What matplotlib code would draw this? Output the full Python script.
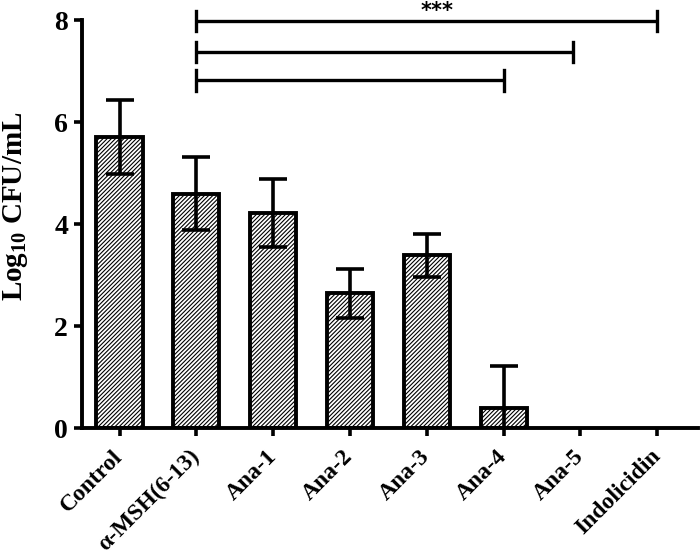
import matplotlib
matplotlib.use("Agg")
import matplotlib.pyplot as plt
import numpy as np

categories = ["Control", "α-MSH(6-13)", "Ana-1", "Ana-2", "Ana-3", "Ana-4", "Ana-5", "Indolicidin"]
means = [5.71, 4.60, 4.22, 2.65, 3.39, 0.39, 0.0, 0.0]
errors = [0.72, 0.72, 0.67, 0.48, 0.42, 0.82, 0.0, 0.0]
yticks = [0, 2, 4, 6, 8]
# significance brackets: (start category, end position, y level)
brackets = [(1, 7.0, 7.98), (1, 5.9, 7.37), (1, 5.0, 6.82)]
sig_label = "***"

plt.rcParams['font.family'] = ['Liberation Serif', 'DejaVu Serif']
plt.rcParams['font.weight'] = 'bold'
plt.rcParams['hatch.linewidth'] = 0.8
plt.rcParams['mathtext.fontset'] = 'custom'
plt.rcParams['mathtext.rm'] = 'Liberation Serif:bold'
plt.rcParams['mathtext.bf'] = 'Liberation Serif:bold'
plt.rcParams['mathtext.it'] = 'Liberation Serif:bold'
plt.rcParams['mathtext.default'] = 'bf'

fig = plt.figure(figsize=(7.0, 5.59), dpi=100)
ax = fig.add_axes([0.117, 0.234, 0.880, 0.730])

x = np.arange(len(categories))
show = [m > 0 for m in means]
for xi, m, e, s in zip(x, means, errors, show):
    if not s:
        continue
    ax.bar(xi, m, width=0.6, color='white', edgecolor='black', linewidth=2.8,
           hatch='////////', zorder=2)
    ax.errorbar(xi, m, yerr=e, fmt='none', ecolor='black', elinewidth=2.6,
                capsize=10, capthick=2.6, zorder=3)

for x0, x1, yb in brackets:
    ax.plot([x0, x1], [yb, yb], color='black', lw=2.4, clip_on=False,
            solid_capstyle='butt', zorder=4)
    for xe in (x0, x1):
        ax.plot([xe, xe], [yb - 0.2, yb + 0.2], color='black', lw=2.4,
                clip_on=False, zorder=4)
ax.text(4.13, 8.37, sig_label, ha='center', va='top', fontsize=15,
        fontweight='bold', family='DejaVu Sans', clip_on=False)

ax.set_xlim(-0.49, 7.53)
ax.set_ylim(0, 8)
ax.set_yticks(yticks)
ax.set_yticklabels([str(t) for t in yticks], fontsize=20, fontweight='bold')
ax.set_xticks(x)
ax.set_xticklabels(categories, rotation=45, ha='right', va='center',
                   rotation_mode='anchor', fontsize=17, fontweight='bold')
ax.set_ylabel(r"Log$_{10}$ CFU/mL", fontsize=21, fontweight='bold')
ax.yaxis.set_label_coords(-0.084, 0.544)

for side in ('top', 'right'):
    ax.spines[side].set_visible(False)
for side in ('left', 'bottom'):
    ax.spines[side].set_linewidth(2.8)
ax.tick_params(axis='both', direction='out', width=2.6, length=6)
ax.tick_params(axis='x', pad=12)
ax.tick_params(axis='y', pad=4)

fig.savefig("out.png", dpi=100)
